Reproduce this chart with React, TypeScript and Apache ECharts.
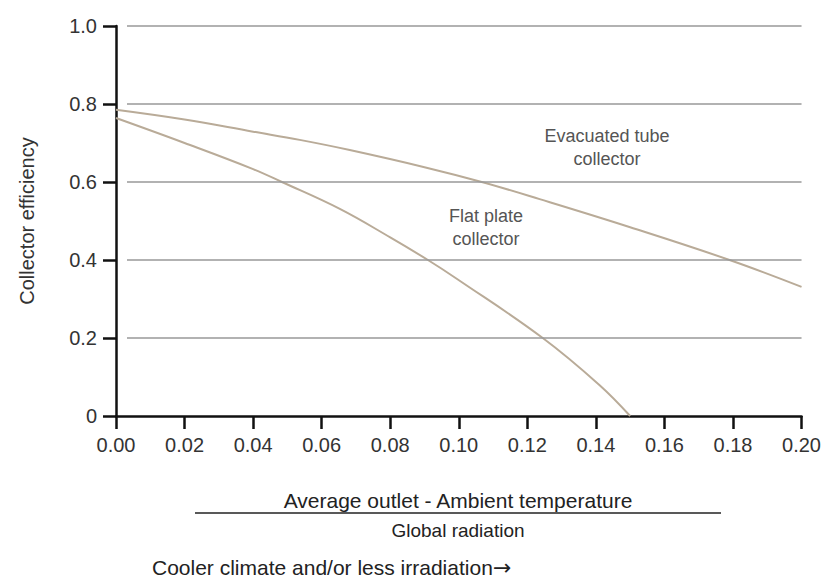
import React, { useEffect, useRef } from "react";
import * as echarts from "echarts";

const evacX = [0, 0.02, 0.04, 0.0536, 0.0682, 0.09, 0.1067, 0.1236, 0.15, 0.179, 0.2];
const evacY = [0.785, 0.76, 0.729, 0.708, 0.682, 0.638, 0.6, 0.556, 0.484, 0.4, 0.331];
const flatX = [0, 0.02, 0.04, 0.0484, 0.0653, 0.08, 0.091, 0.0994, 0.1245, 0.1411, 0.15];
const flatY = [0.764, 0.7, 0.633, 0.6, 0.531, 0.458, 0.4, 0.352, 0.2, 0.079, 0];
const gridValues = [0.2, 0.4, 0.6, 0.8, 1.0];
const gridStartX = 0.0032;
const xMax = 0.2;

const FONT = "'Liberation Sans', Arial, Helvetica, sans-serif";
const CURVE = "#b9ab98";

export default function App() {
  const ref = useRef<HTMLDivElement>(null);
  useEffect(() => {
    if (!ref.current) return;
    const chart = echarts.init(ref.current, undefined, { renderer: "svg" });
    const pairs = (xs: number[], ys: number[]) => xs.map((x, i) => [x, ys[i]]);
    chart.setOption({
      animation: false,
      backgroundColor: "#ffffff",
      textStyle: { fontFamily: FONT },
      grid: { left: 116, right: 22, top: 26, bottom: 162 },
      xAxis: {
        type: "value",
        min: 0,
        max: xMax,
        interval: 0.02,
        axisLine: { show: true, lineStyle: { color: "#111", width: 2.5 } },
        axisTick: { show: true, length: 13, lineStyle: { color: "#111", width: 2.5 } },
        axisLabel: {
          color: "#333",
          fontSize: 20,
          margin: 19,
          fontFamily: FONT,
          formatter: (v: number) => v.toFixed(2),
        },
        splitLine: { show: false },
      },
      yAxis: {
        type: "value",
        min: 0,
        max: 1,
        interval: 0.2,
        name: "Collector efficiency",
        nameLocation: "middle",
        nameGap: 79,
        nameRotate: 90,
        nameTextStyle: { color: "#333", fontSize: 20, fontFamily: FONT },
        axisLine: { show: true, lineStyle: { color: "#111", width: 2.5 } },
        axisTick: { show: true, length: 13, lineStyle: { color: "#111", width: 2.5 } },
        axisLabel: {
          color: "#333",
          fontSize: 20,
          margin: 19,
          fontFamily: FONT,
          formatter: (v: number) => (v === 0 ? "0" : v.toFixed(1)),
        },
        splitLine: { show: false },
      },
      series: [
        {
          type: "line",
          name: "grid",
          data: [],
          silent: true,
          markLine: {
            silent: true,
            symbol: "none",
            label: { show: false },
            lineStyle: { color: "#999", width: 1.5, type: "solid" },
            data: gridValues.map((v) => [
              { coord: [gridStartX, v] },
              { coord: [xMax, v] },
            ]),
          },
        },
        {
          type: "line",
          name: "Evacuated tube collector",
          data: pairs(evacX, evacY),
          smooth: 0.4,
          showSymbol: false,
          lineStyle: { color: CURVE, width: 2 },
          z: 3,
        },
        {
          type: "line",
          name: "Flat plate collector",
          data: pairs(flatX, flatY),
          smooth: 0.4,
          showSymbol: false,
          lineStyle: { color: CURVE, width: 2 },
          z: 3,
        },
      ],
      graphic: [
        {
          type: "text",
          x: 607,
          y: 147,
          style: {
            text: "Evacuated tube\ncollector",
            fill: "#555",
            font: `18px ${FONT}`,
            align: "center",
            verticalAlign: "middle",
            lineHeight: 23,
          },
        },
        {
          type: "text",
          x: 486,
          y: 227,
          style: {
            text: "Flat plate\ncollector",
            fill: "#555",
            font: `18px ${FONT}`,
            align: "center",
            verticalAlign: "middle",
            lineHeight: 23,
          },
        },
        {
          type: "text",
          x: 458,
          y: 500,
          style: {
            text: "Average outlet - Ambient temperature",
            fill: "#222",
            font: `21px ${FONT}`,
            align: "center",
            verticalAlign: "middle",
          },
        },
        {
          type: "line",
          shape: { x1: 195, y1: 513, x2: 721, y2: 513 },
          style: { stroke: "#222", lineWidth: 1.5 },
        },
        {
          type: "text",
          x: 458,
          y: 530,
          style: {
            text: "Global radiation",
            fill: "#222",
            font: `19px ${FONT}`,
            align: "center",
            verticalAlign: "middle",
          },
        },
        {
          type: "text",
          x: 152,
          y: 567,
          style: {
            text: "Cooler climate and/or less irradiation",
            fill: "#222",
            font: `21px ${FONT}`,
            align: "left",
            verticalAlign: "middle",
          },
        },
        {
          type: "text",
          x: 493,
          y: 567,
          style: {
            text: "\u2192",
            fill: "#222",
            font: "22px 'DejaVu Sans', sans-serif",
            align: "left",
            verticalAlign: "middle",
          },
        },
      ],
    });
    return () => chart.dispose();
  }, []);
  return (
    <div
      ref={ref}
      style={{ position: "absolute", left: 0, top: 0, width: 824, height: 578 }}
    />
  );
}
